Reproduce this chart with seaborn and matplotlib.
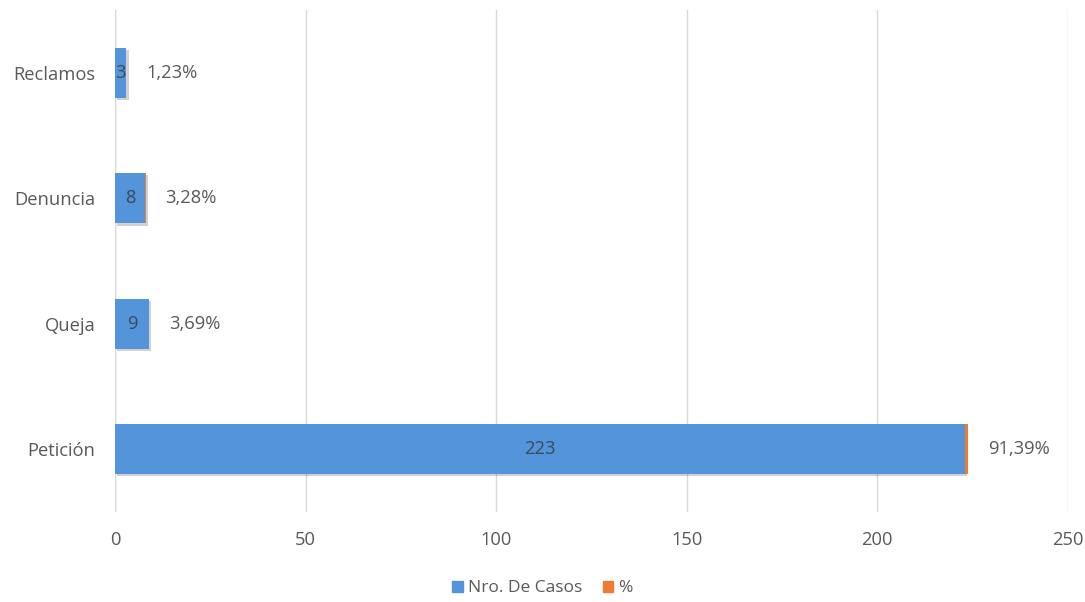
import matplotlib
matplotlib.use("Agg")
import matplotlib.pyplot as plt
import matplotlib.patheffects as pe
from matplotlib.patches import Patch
import seaborn as sns
import pandas as pd

categories = ["Reclamos", "Denuncia", "Queja", "Petición"]
casos = [3, 8, 9, 223]
porcentaje = [0.0123, 0.0328, 0.0369, 0.9139]
pct_labels = ["1,23%", "3,28%", "3,69%", "91,39%"]
x_ticks = [0, 50, 100, 150, 200, 250]

BLUE = "#5494DA"
ORANGE = "#ED7D31"
GRAY = "#595959"
FS = 13.2

sns.set_theme(style="white")
plt.rcParams["font.family"] = ["Open Sans", "DejaVu Sans"]

df = pd.DataFrame({"Tipo": categories, "Casos": casos, "Pct": porcentaje})

fig = plt.figure(figsize=(10.85, 6.02), dpi=100)
ax = fig.add_axes([0.106, 0.1495, 0.878, 0.8335])

shadow = [pe.SimplePatchShadow(offset=(1.5, -1.5), shadow_rgbFace="#000000", alpha=0.18), pe.Normal()]

sns.barplot(data=df, y="Tipo", x="Casos", orient="h", color=BLUE, width=0.4,
            saturation=1, ax=ax, order=categories, linewidth=0)
for p in ax.patches:
    p.set_path_effects(shadow)
ax.barh(categories, porcentaje, left=casos, height=0.4, color=ORANGE, linewidth=0)

# count labels centered in blue bars
for i, c in enumerate(casos):
    ax.text(c / 2, i, str(c), ha="center", va="center", fontsize=FS, color="#3A4A5A")
# percent labels to the right
for i, (c, p, lab) in enumerate(zip(casos, porcentaje, pct_labels)):
    ax.annotate(lab, xy=(c + p, i), xytext=(14, 0), textcoords="offset points",
                ha="left", va="center", fontsize=FS, color=GRAY)

ax.set_xlim(0, 250)
ax.set_ylim(3.5, -0.5)
ax.set_xticks(x_ticks)
ax.set_xticklabels([str(t) for t in x_ticks])
ax.xaxis.grid(True, color="#D9D9D9", linewidth=1)
ax.set_axisbelow(True)
for s in ax.spines.values():
    s.set_visible(False)
ax.axvline(0, color="#D9D9D9", linewidth=1, zorder=0)
ax.tick_params(axis="x", length=0, pad=14, labelsize=FS, labelcolor=GRAY)
ax.tick_params(axis="y", length=0, pad=14, labelsize=FS, labelcolor=GRAY)
ax.set_xlabel("")
ax.set_ylabel("")

handles = [Patch(color=BLUE, label="Nro. De Casos"), Patch(color=ORANGE, label="%")]
fig.legend(handles=handles, loc="center", bbox_to_anchor=(0.5, 0.023), ncol=2,
           frameon=False, fontsize=12.5, labelcolor=GRAY, handlelength=0.6,
           handleheight=0.6, handletextpad=0.3, columnspacing=1.2)

fig.savefig("out.png", dpi=100)
